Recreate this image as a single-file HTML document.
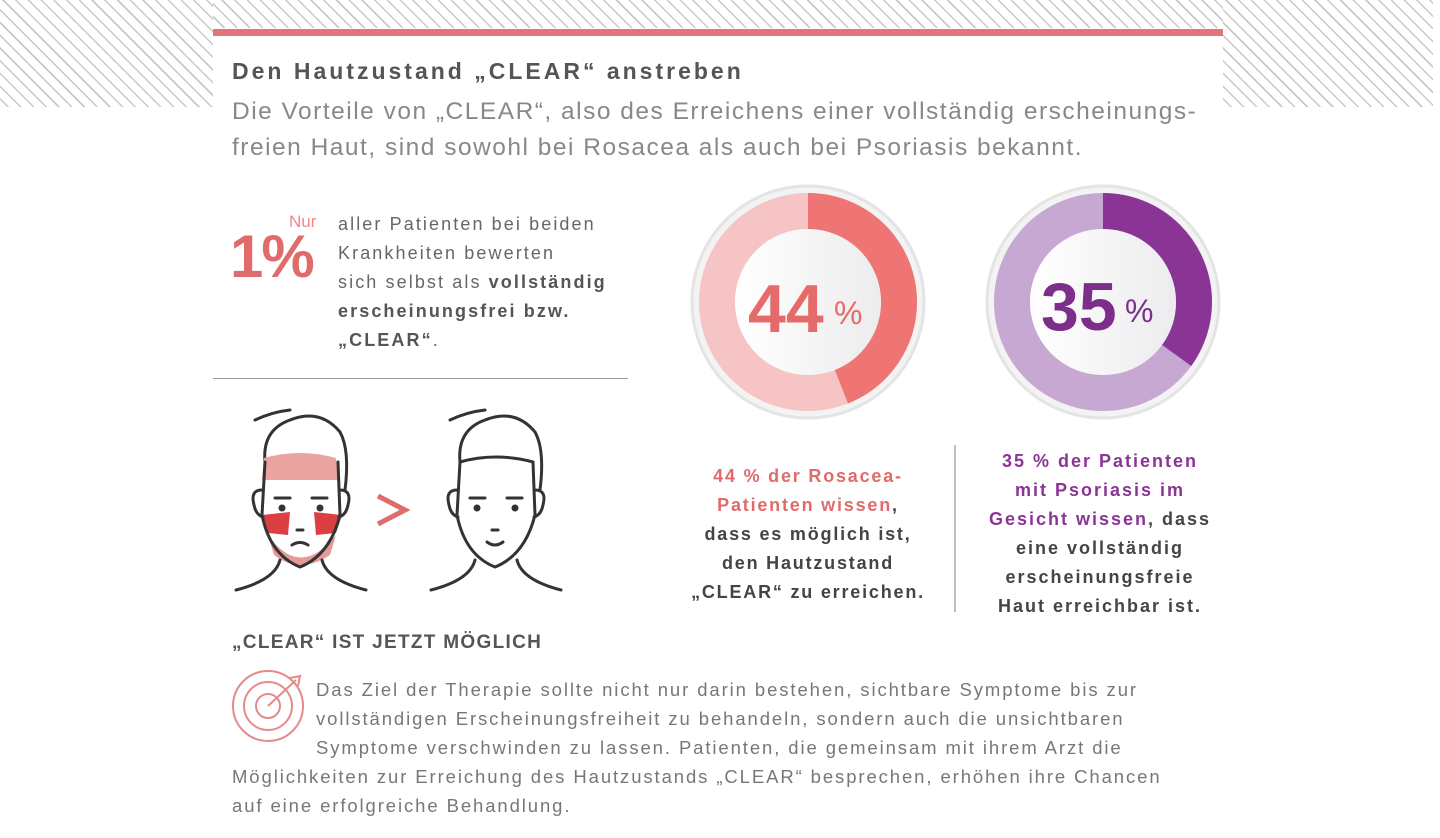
<!DOCTYPE html>
<html><head><meta charset="utf-8"><style>
body{margin:0;width:1440px;height:838px;background:#fff;position:relative;overflow:hidden;font-family:"Liberation Sans",sans-serif}
.t{position:absolute;white-space:nowrap}
.hat{position:absolute;background:repeating-linear-gradient(45deg,#fff 0 5px,#c8c8c8 5px 6.5px,#fff 6.5px 9px)}
</style></head><body>
<div class="hat" style="left:0;top:0;width:1433px;height:28px"></div>
<div class="hat" style="left:0;top:0;width:213px;height:107px"></div>
<div class="hat" style="left:1223px;top:0;width:210px;height:107px"></div>
<div style="position:absolute;left:213px;top:28px;width:1010px;height:80px;background:#fff"></div>
<div style="position:absolute;left:213px;top:29px;width:1010px;height:7px;background:#e5737a"></div>
<div class="t" style="left:232px;top:58px;font-size:23px;font-weight:bold;color:#555;letter-spacing:3px">Den Hautzustand „CLEAR“ anstreben</div>
<div class="t" style="left:232px;top:94px;font-size:24.5px;color:#888;line-height:36px;letter-spacing:1.5px">Die Vorteile von „CLEAR“, also des Erreichens einer vollständig erscheinungs-<br>freien Haut, sind sowohl bei Rosacea als auch bei Psoriasis bekannt.</div>
<div class="t" style="left:230px;top:222px;font-size:60px;font-weight:bold;color:#e06b6b;letter-spacing:-2px">1%</div>
<div class="t" style="left:289px;top:212px;font-size:17px;color:#e88">Nur</div>
<div class="t" style="left:338px;top:210px;font-size:18px;color:#666;line-height:29px;letter-spacing:2.1px">aller Patienten bei beiden<br>Krankheiten bewerten<br>sich selbst als <b style="color:#555">vollständig</b><br><b style="color:#555">erscheinungsfrei bzw.</b><br><b style="color:#555">„CLEAR“</b>.</div>
<div style="position:absolute;left:213px;top:378px;width:415px;height:1px;background:#999"></div>
<svg style="position:absolute;left:0;top:0" width="1440" height="838">
<defs><linearGradient id="g" x1="0" x2="1"><stop offset="0" stop-color="#fff"/><stop offset="1" stop-color="#ececee"/></linearGradient></defs>
<g transform="translate(808,302)">
<circle r="116" fill="#f3f3f3" stroke="#e4e4e4" stroke-width="3"/>
<circle r="91" fill="none" stroke="#f6c4c4" stroke-width="36"/>
<circle r="91" fill="none" stroke="#ef7474" stroke-width="36" stroke-dasharray="251.6 1000" transform="rotate(-90)"/>
<circle r="73" fill="url(#g)"/>
<text x="-60" y="30" font-size="68" font-weight="bold" fill="#e56a6a" font-family="Liberation Sans">44</text>
<text x="26" y="22" font-size="32" fill="#e56a6a" font-family="Liberation Sans">%</text>
</g>
<g transform="translate(1103,302)">
<circle r="116" fill="#f3f3f3" stroke="#e4e4e4" stroke-width="3"/>
<circle r="91" fill="none" stroke="#c7a8d2" stroke-width="36"/>
<circle r="91" fill="none" stroke="#8a3596" stroke-width="36" stroke-dasharray="200 1000" transform="rotate(-90)"/>
<circle r="73" fill="url(#g)"/>
<text x="-62" y="28" font-size="68" font-weight="bold" fill="#7c2e8a" font-family="Liberation Sans">35</text>
<text x="22" y="20" font-size="32" fill="#7c2e8a" font-family="Liberation Sans">%</text>
</g>
<line x1="955" y1="445" x2="955" y2="612" stroke="#aaa" stroke-width="1.5"/>
<g fill="none" stroke="#333" stroke-width="3" stroke-linecap="round">
<path d="M265 462 Q262 430 290 420 Q320 408 340 432 Q350 450 345 490"/>
<path d="M255 420 Q272 412 290 410"/>
</g>
<path d="M264 458 Q300 448 336 458 L338 480 L262 480Z" fill="#eaa3a0"/>
<path d="M262 515 L290 512 L288 535 L268 533Z M314 512 L342 515 L336 533 L316 535Z" fill="#dc3f43"/>
<path d="M268 535 Q300 580 336 535 L330 555 Q300 575 274 555Z" fill="#e59a98"/>
<g fill="none" stroke="#333" stroke-width="3" stroke-linecap="round">
<path d="M265 462 L262 515 Q270 555 300 567 Q330 555 340 515 L338 462"/>
<path d="M262 490 Q250 490 254 505 Q256 515 263 517"/><path d="M340 490 Q352 490 348 505 Q346 515 339 517"/>
<path d="M275 498 L290 498"/><path d="M312 498 L327 498"/>
<path d="M292 545 Q300 540 308 545"/><path d="M297 530 L303 530"/>
<path d="M280 560 Q275 580 236 590"/><path d="M322 560 Q327 580 366 590"/>
</g>
<circle cx="282" cy="508" r="3.5" fill="#333"/><circle cx="320" cy="508" r="3.5" fill="#333"/>
<path d="M378 496 L405 510 L378 524" fill="none" stroke="#e06b6b" stroke-width="5"/>
<g fill="none" stroke="#333" stroke-width="3" stroke-linecap="round" transform="translate(195,0)">
<path d="M265 462 Q262 430 290 420 Q320 408 340 432 Q350 450 345 490"/>
<path d="M255 420 Q272 412 290 410"/>
<path d="M265 462 Q300 452 338 462"/>
<path d="M265 462 L262 515 Q270 555 300 567 Q330 555 340 515 L338 462"/>
<path d="M262 490 Q250 490 254 505 Q256 515 263 517"/><path d="M340 490 Q352 490 348 505 Q346 515 339 517"/>
<path d="M275 498 L290 498"/><path d="M312 498 L327 498"/>
<path d="M292 542 Q300 548 308 542"/><path d="M297 530 L303 530"/>
<path d="M280 560 Q275 580 236 590"/><path d="M322 560 Q327 580 366 590"/>
</g>
<circle cx="477" cy="508" r="3.5" fill="#333"/><circle cx="515" cy="508" r="3.5" fill="#333"/>
<g fill="none" stroke="#e58a8a" stroke-width="2">
<circle cx="268" cy="706" r="35"/><circle cx="268" cy="706" r="24"/><circle cx="268" cy="706" r="12"/>
<path d="M268 706 L296 680"/><path d="M290 678 L300 676 L298 686"/>
</g>
</svg>
<div class="t" style="left:808px;top:462px;transform:translateX(-50%);text-align:center;font-size:18px;font-weight:bold;color:#444;line-height:29px;letter-spacing:1.8px"><span style="color:#e06b6b">44 % der Rosacea-<br>Patienten wissen</span>,<br>dass es möglich ist,<br>den Hautzustand<br>„CLEAR“ zu erreichen.</div>
<div class="t" style="left:1100px;top:447px;transform:translateX(-50%);text-align:center;font-size:18px;font-weight:bold;color:#444;line-height:29px;letter-spacing:2px"><span style="color:#8a3596">35 % der Patienten<br>mit Psoriasis im<br>Gesicht wissen</span>, dass<br>eine vollständig<br>erscheinungsfreie<br>Haut erreichbar ist.</div>
<div class="t" style="left:232px;top:632px;font-size:19px;font-weight:bold;color:#555;letter-spacing:1.3px">„CLEAR“ IST JETZT MÖGLICH</div>
<div class="t" style="left:316px;top:675px;font-size:18.5px;color:#777;line-height:29px;letter-spacing:1.9px">Das Ziel der Therapie sollte nicht nur darin bestehen, sichtbare Symptome bis zur<br>vollständigen Erscheinungsfreiheit zu behandeln, sondern auch die unsichtbaren<br>Symptome verschwinden zu lassen. Patienten, die gemeinsam mit ihrem Arzt die</div>
<div class="t" style="left:232px;top:762px;font-size:18.5px;color:#777;line-height:29px;letter-spacing:1.9px">Möglichkeiten zur Erreichung des Hautzustands „CLEAR“ besprechen, erhöhen ihre Chancen<br>auf eine erfolgreiche Behandlung.</div>
</body></html>
